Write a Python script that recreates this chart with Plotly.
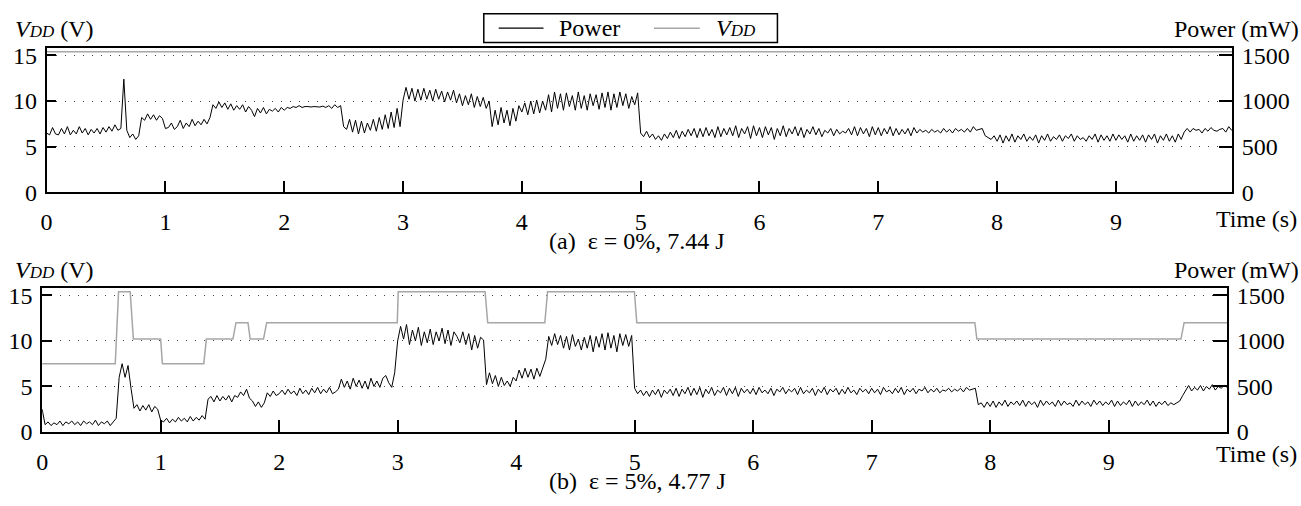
import plotly.graph_objects as go

W, H = 1301, 506
FONT = "Liberation Serif, Times New Roman, Times, serif"
FS = 24

# ---------------- data ----------------
# sampling step of the measured power traces (s)
dt = 0.025

# (a) eps = 0 % : power (mW), one value every 0.025 s from 0 to 10 s
power_a = [
    650, 630, 710, 640, 630, 700, 640, 720, 630, 680,
    640, 720, 650, 700, 630, 690, 650, 700, 640, 710,
    660, 720, 670, 740, 680, 700, 1240, 680, 600, 640,
    580, 620, 820, 790, 860, 800, 850, 790, 840, 810,
    700, 710, 760, 690, 720, 790, 700, 760, 720, 800,
    730, 780, 740, 800, 750, 820, 960, 920, 990, 930,
    980, 910, 970, 900, 950, 910, 960, 880, 940, 900,
    830, 920, 870, 930, 860, 910, 890, 920, 880, 930,
    900, 930, 920, 940, 930, 950, 930, 940, 940, 935,
    940, 940, 935, 945, 930, 950, 920, 960, 930, 950,
    720, 690, 800, 660, 790, 640, 780, 650, 760, 680,
    800, 670, 820, 690, 850, 700, 880, 710, 920, 720,
    1010, 1150, 1020, 1140, 1000, 1130, 1010, 1140, 1020, 1120,
    1000, 1130, 1020, 1110, 990, 1100, 1010, 1120, 980, 1080,
    950, 1060, 960, 1080, 930, 1050, 940, 1040, 920, 1000,
    720, 900, 740, 930, 760, 900, 730, 920, 780, 950,
    880, 980, 850, 1000, 860, 1010, 870, 1000, 900, 1070,
    880, 1100, 920, 1080, 900, 1090, 940, 1060, 900, 1100,
    920, 1060, 900, 1080, 950, 1070, 910, 1090, 930, 1100,
    900, 1080, 930, 1100, 950, 1080, 920, 1050, 960, 1090,
    650, 610, 670, 600, 640, 580, 620, 570, 640, 590,
    660, 600, 680, 590, 670, 610, 690, 620, 700, 600,
    700, 610, 710, 620, 690, 600, 720, 610, 700, 630,
    710, 620, 730, 600, 700, 640, 720, 590, 730, 620,
    710, 600, 720, 630, 710, 580, 700, 620, 730, 610,
    700, 640, 720, 620, 710, 600, 690, 640, 720, 630,
    700, 610, 680, 650, 700, 620, 690, 640, 670, 650,
    700, 630, 720, 620, 710, 640, 700, 610, 720, 630,
    710, 620, 700, 640, 720, 620, 700, 630, 690, 640,
    700, 620, 710, 650, 690, 660, 680, 650, 690, 660,
    680, 650, 700, 660, 690, 650, 700, 670, 690, 660,
    700, 660, 720, 680, 690, 700, 620, 600, 580, 620,
    560, 630, 540, 620, 560, 640, 550, 620, 580, 640,
    560, 610, 570, 630, 540, 620, 570, 640, 560, 610,
    580, 630, 560, 620, 590, 640, 560, 620, 580, 600,
    560, 620, 580, 640, 550, 630, 570, 620, 560, 640,
    570, 630, 580, 620, 550, 640, 560, 620, 570, 630,
    550, 630, 580, 640, 540, 620, 570, 640, 560, 620,
    550, 640, 580, 660, 700, 660, 700, 680, 690, 650,
    700, 670, 710, 680, 670, 690, 700, 660, 720, 680,
    690,
]

# (b) eps = 5 % : power (mW)
power_b = [
    250, 80, 110, 70, 100, 80, 120, 70, 110, 90,
    120, 80, 110, 70, 120, 90, 110, 80, 130, 70,
    110, 90, 120, 70, 110, 150, 600, 750, 600, 730,
    480, 260, 300, 230, 290, 240, 300, 220, 280, 250,
    130, 110, 150, 100, 140, 110, 160, 120, 150, 110,
    170, 120, 160, 130, 180, 140, 360, 390, 330, 400,
    340, 390, 350, 400, 330, 400, 380, 440, 400, 470,
    370, 340, 280, 330, 270, 320, 430, 390, 450, 400,
    420, 460, 410, 470, 420, 450, 400, 480, 420, 460,
    410, 480, 430, 490, 420, 470, 430, 490, 420, 440,
    470, 580, 490, 560, 470, 590, 500, 570, 480, 560,
    470, 590, 500, 560, 490, 590, 620, 540, 490, 650,
    1000, 1160, 1020, 1180, 960, 1120, 1000, 1150, 950, 1100,
    980, 1130, 960, 1100, 1000, 1140, 970, 1120, 950, 1100,
    1050, 980, 1100, 960, 1080, 900, 1060, 920, 1040, 1010,
    520, 650, 530, 620, 500, 600, 510, 560, 500, 600,
    560, 680, 590, 700, 600, 690, 580, 700, 610, 700,
    800, 1050, 950, 1080, 960, 1060, 920, 1050, 900, 1070,
    940, 1020, 900, 1040, 920, 1060, 880, 1050, 930, 1080,
    900, 1090, 920, 1060, 880, 1080, 950, 1070, 940, 1060,
    480, 420, 460, 400, 450, 390, 460, 410, 470, 380,
    460, 420, 470, 400, 480, 390, 470, 420, 490, 400,
    480, 410, 490, 380, 470, 420, 490, 400, 460, 430,
    490, 400, 480, 420, 490, 390, 480, 430, 470, 420,
    480, 410, 490, 430, 460, 420, 480, 400, 470, 440,
    490, 420, 470, 440, 480, 410, 490, 420, 460, 430,
    480, 400, 470, 430, 490, 410, 470, 440, 480, 410,
    470, 420, 490, 430, 460, 410, 480, 440, 470, 420,
    480, 430, 470, 410, 490, 440, 460, 420, 480, 430,
    490, 410, 470, 440, 480, 420, 470, 450, 490, 430,
    470, 440, 480, 430, 460, 450, 480, 440, 470, 450,
    480, 440, 490, 460, 470, 480, 300, 320, 270, 330,
    280, 340, 270, 330, 290, 350, 280, 330, 300, 340,
    290, 350, 280, 340, 300, 330, 270, 350, 290, 340,
    300, 330, 280, 350, 290, 340, 300, 320, 280, 350,
    290, 340, 300, 330, 280, 350, 300, 340, 290, 330,
    300, 350, 280, 340, 290, 330, 300, 350, 280, 340,
    290, 330, 300, 350, 290, 340, 280, 330, 300, 340,
    290, 320, 300, 320, 340, 400, 460, 510, 450, 490,
    460, 510, 450, 500, 470, 520, 460, 500, 480, 510,
    490,
]

time_a = [i * dt for i in range(len(power_a))]
time_b = [i * dt for i in range(len(power_b))]

# supply voltage (V), step changes
vdd_a_t = [0, 10]
vdd_a_v = [15.4, 15.4]

vdd_b_t = [0, 0.617, 0.645, 0.743, 0.77, 1.0, 1.015, 1.364, 1.386, 1.61, 1.636,
           1.737, 1.756, 1.868, 1.895, 2.997, 3.005, 3.738, 3.76, 4.242, 4.265,
           4.998, 5.018, 7.871, 7.888, 9.61, 9.637, 10]
vdd_b_v = [7.5, 7.5, 15.4, 15.4, 10.2, 10.2, 7.5, 7.5, 10.2, 10.2, 12,
           12, 10.2, 10.2, 12, 12, 15.4, 15.4, 12, 12, 15.4,
           15.4, 12, 12, 10.2, 10.2, 12, 12]

x_ticks = [0, 1, 2, 3, 4, 5, 6, 7, 8, 9]
x_grid = [2, 4, 8]
v_ticks = [0, 5, 10, 15]
p_ticks = [0, 500, 1000, 1500]
captions = ["(a)\u00a0\u00a0ε = 0%, 7.44 J", "(b)\u00a0\u00a0ε = 5%, 4.77 J"]
VDD_TXT = "<i>V<span style='font-size:17px'>DD</span></i>"
legend_names = ["Power", VDD_TXT]

# ---------------- layout helpers ----------------
def px_x(p):
    return p / W

def px_y(p):
    return 1 - p / H

panels = [
    dict(x0=40.8, x1=1232.0, top=45.0, bot=194.3, xmax=9.98, vmax=15.77),
    dict(x0=36.3, x1=1226.8, top=293.3, bot=442.7, xmax=10.0, vmax=15.83),
]

GRAY = "#a6a6a6"
GRIDC = "#444444"
font = dict(family=FONT, size=FS, color="black")

fig = go.Figure()

vdd_sets = [(vdd_a_t, vdd_a_v), (vdd_b_t, vdd_b_v)]
pow_sets = [(time_a, power_a), (time_b, power_b)]


def ak(a):
    base = "xaxis" if a[0] == "x" else "yaxis"
    return base + a[1:]


layout = {}
for k, pn in enumerate(panels):
    xa = "x" if k == 0 else "x2"
    xg = "x3" if k == 0 else "x4"
    yv = "y" if k == 0 else "y3"
    yp = "y2" if k == 0 else "y4"
    xdom = [px_x(pn["x0"]), px_x(pn["x1"])]
    ydom = [px_y(pn["bot"]), px_y(pn["top"])]

    fig.add_trace(go.Scatter(
        x=vdd_sets[k][0], y=vdd_sets[k][1], mode="lines",
        line=dict(color=GRAY, width=1.5), xaxis=xa, yaxis=yv,
        name=legend_names[1], showlegend=False))
    fig.add_trace(go.Scatter(
        x=pow_sets[k][0], y=pow_sets[k][1], mode="lines",
        line=dict(color="black", width=1), xaxis=xa, yaxis=yp,
        name=legend_names[0], showlegend=False))

    layout[ak(xa)] = dict(
        domain=xdom, anchor=yv, range=[0, pn["xmax"]], tickvals=x_ticks,
        ticks="inside", ticklen=12, tickwidth=1.5, tickcolor="black",
        showline=True, mirror=True, linecolor="black", linewidth=1.5,
        showgrid=False, zeroline=False, tickfont=font, ticklabelstandoff=7)
    layout[ak(xg)] = dict(
        overlaying=xa, anchor=yv, side="top", range=[0, pn["xmax"]],
        tickvals=x_grid, ticks="inside", ticklen=8, tickwidth=1.5,
        tickcolor="black", showticklabels=False, showline=False,
        showgrid=True, gridcolor=GRIDC, gridwidth=1, griddash="1px,9px",
        zeroline=False)
    layout[ak(yv)] = dict(
        domain=ydom, anchor=xa, range=[0, pn["vmax"]], tickvals=v_ticks,
        ticks="inside", ticklen=10, tickwidth=1.5, tickcolor="black",
        showline=True, mirror=True, linecolor="black", linewidth=1.5,
        showgrid=True, gridcolor=GRIDC, gridwidth=1, griddash="1px,8px",
        zeroline=False, tickfont=font, ticklabelstandoff=3)
    layout[ak(yp)] = dict(
        overlaying=yv, anchor=xa, side="right", range=[0, pn["vmax"] * 100],
        tickvals=p_ticks, ticks="inside", ticklen=14, tickwidth=1.5,
        tickcolor="black", showline=True, linecolor="black", linewidth=1.5,
        showgrid=False, zeroline=False, tickfont=font, ticklabelstandoff=3)

annotations = []
for k, pn in enumerate(panels):
    head_y = 25 if k == 0 else 275
    annotations.append(dict(
        text=VDD_TXT + " (V)",
        x=px_x(7), y=px_y(head_y), xref="paper", yref="paper",
        xanchor="left", yanchor="middle", showarrow=False, font=font))
    annotations.append(dict(
        text="Power (mW)", x=px_x(1301), y=px_y(head_y), xref="paper",
        yref="paper", xanchor="right", yanchor="middle", showarrow=False,
        font=font))
    annotations.append(dict(
        text="Time (s)", x=px_x(1299), y=px_y(222 if k == 0 else 466),
        xref="paper", yref="paper", xanchor="right", yanchor="middle",
        showarrow=False, font=font))
    annotations.append(dict(
        text=captions[k], x=px_x(634), y=px_y(245 if k == 0 else 494),
        xref="paper", yref="paper", xanchor="center", yanchor="middle",
        showarrow=False, font=font))

# legend (drawn as a framed key above the top panel)
shapes = [
    dict(type="rect", xref="paper", yref="paper", x0=px_x(480), x1=px_x(775),
         y0=px_y(39), y1=px_y(9), line=dict(color="black", width=1.5),
         fillcolor="white", layer="above"),
    dict(type="line", xref="paper", yref="paper", x0=px_x(495), x1=px_x(540),
         y0=px_y(24), y1=px_y(24), line=dict(color="black", width=1.2)),
    dict(type="line", xref="paper", yref="paper", x0=px_x(651), x1=px_x(697),
         y0=px_y(24), y1=px_y(24), line=dict(color=GRAY, width=1.5)),
]
annotations.append(dict(text=legend_names[0], x=px_x(554), y=px_y(24),
                        xref="paper", yref="paper", xanchor="left",
                        yanchor="middle", showarrow=False, font=font))
annotations.append(dict(text=legend_names[1], x=px_x(711), y=px_y(24),
                        xref="paper", yref="paper", xanchor="left",
                        yanchor="middle", showarrow=False, font=font))

fig.update_layout(
    width=W, height=H, margin=dict(l=0, r=0, t=0, b=0),
    paper_bgcolor="white", plot_bgcolor="white", font=font,
    annotations=annotations, shapes=shapes, showlegend=False,
    **layout)

fig.write_html("out.html")
